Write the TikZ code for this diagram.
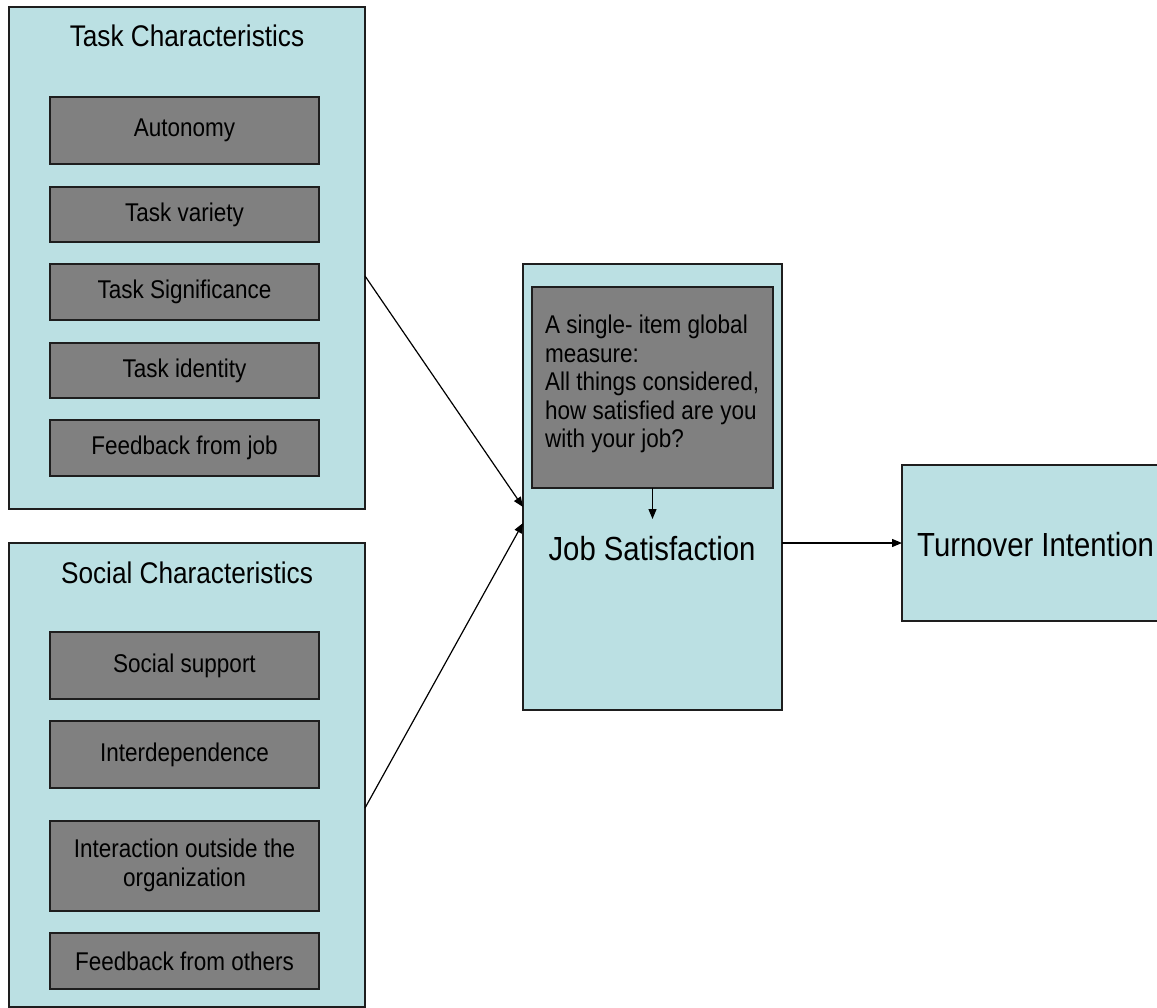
\documentclass[tikz,border=0pt]{standalone}
\usepackage{fontspec}
\setmainfont{Liberation Sans}
\usepackage{graphicx}
\usetikzlibrary{arrows.meta}

\definecolor{paleblue}{RGB}{187,224,227}
\definecolor{itemgray}{RGB}{128,128,128}
\definecolor{edge}{RGB}{30,30,30}

% slightly tall lettering
\newcommand{\tallText}[1]{\scalebox{1}[1.14]{#1}}

\begin{document}
\begin{tikzpicture}[x=1pt,y=-1pt,
  panel/.style={draw=edge, fill=paleblue, line width=1.2pt, inner sep=0pt,
    outer sep=0pt, anchor=north west},
  item/.style={draw=edge, fill=itemgray, line width=1.2pt, inner sep=0pt,
    outer sep=0pt, anchor=north west, minimum width=269pt,
    font=\fontsize{22.5}{26}\selectfont},
  title/.style={inner sep=0pt, font=\fontsize{26.2}{30}\selectfont},
  big/.style={inner sep=0pt, font=\fontsize{29.3}{34}\selectfont},
  arr/.style={draw=black, line width=1.2pt, -{Triangle[length=10pt,width=8pt]}}
]
\useasboundingbox (0,0) rectangle (1157,1008);
\clip (0,0) rectangle (1157,1008);
\fill[white] (0,0) rectangle (1157,1008);

% task characteristics panel
\node[panel, minimum width=356pt, minimum height=502pt] (task) at (9,7) {};
\node[title] (tasktitle) at (187,36) {\tallText{Task Characteristics}};
\node[item, minimum height=67pt] (auto) at (50,97) {\tallText{Autonomy}};
\node[item, minimum height=55pt] (variety) at (50,187) {\tallText{Task variety}};
\node[item, minimum height=56pt] (signif) at (50,264) {\tallText{Task Significance}};
\node[item, minimum height=55pt] (ident) at (50,343) {\tallText{Task identity}};
\node[item, minimum height=56pt] (fbjob) at (50,420) {\tallText{Feedback from job}};

% social characteristics panel
\node[panel, minimum width=356pt, minimum height=464pt] (social) at (9,543) {};
\node[title] (soctitle) at (187,573) {\tallText{Social Characteristics}};
\node[item, minimum height=67pt] (support) at (50,632) {\tallText{Social support}};
\node[item, minimum height=67pt] (interdep) at (50,721) {\tallText{Interdependence}};
\node[item, minimum height=90pt] (outside) at (50,821)
  {\tallText{\begin{tabular}{@{}c@{}}Interaction outside the\\organization\end{tabular}}};
\node[item, minimum height=56pt] (fbothers) at (50,933) {\tallText{Feedback from others}};

% job satisfaction panel
\node[panel, minimum width=259pt, minimum height=446pt] (js) at (523,264) {};
\node[item, minimum width=241pt, minimum height=201pt] (measure) at (532,287) {};
\node[inner sep=0pt, anchor=west, font=\fontsize{22.5}{25}\selectfont] (measuretext) at (545,385)
  {\tallText{\begin{tabular}{@{}l@{}}A single- item global\\measure:\\All things considered,\\how satisfied are you\\with your job?\end{tabular}}};
\node[big] (jstitle) at (652,549) {\tallText{Job Satisfaction}};

% turnover intention panel
\node[panel, minimum width=280pt, minimum height=156pt] (tov) at (902,465) {};
\node[big, anchor=west] (tovtitle) at (917,545) {\tallText{Turnover Intention}};

% connectors
\draw[arr] ([yshift=-18pt]task.east) -- ([yshift=-20pt]js.west);
\draw[arr] ([yshift=-33pt]social.east) -- ([yshift=-36pt]js.west);
\draw[arr] (measure.south) -- ++(0,31);
\draw[arr] (js.east |- tov.west) -- (tov.west);
\end{tikzpicture}
\end{document}
